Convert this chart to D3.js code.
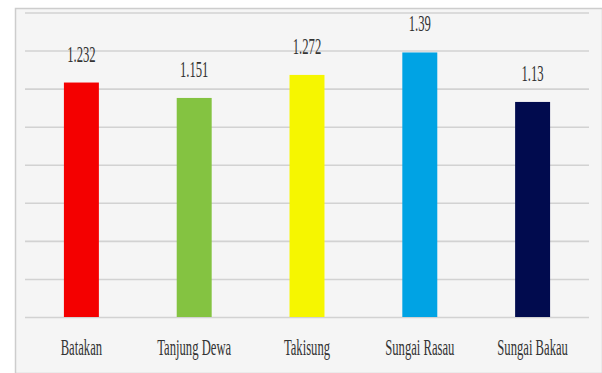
<!DOCTYPE html>
<html>
<head>
<meta charset="utf-8">
<script src="https://cdn.jsdelivr.net/npm/d3@7"></script>
<style>
  html, body { margin: 0; padding: 0; background: #ffffff; }
  svg { display: block; }
</style>
</head>
<body>
<svg id="chart" width="602" height="373"></svg>
<script>
const categories = ["Batakan", "Tanjung Dewa", "Takisung", "Sungai Rasau", "Sungai Bakau"];
const values = [1.232, 1.151, 1.272, 1.39, 1.13];
const valueLabels = ["1.232", "1.151", "1.272", "1.39", "1.13"];
const gridTicks = [0, 0.2, 0.4, 0.6, 0.8, 1.0, 1.2, 1.4, 1.6];
const palette = ["#f40000", "#84c341", "#f6f600", "#00a3e4", "#010b4e"];

const W = 602, H = 373;
const plot = { left: 25, right: 589, top: 12.5, bottom: 317 };
const textColor = "#333333";
const fontFamily = "'Liberation Serif', 'Times New Roman', serif";
const squeeze = 0.55;

const svg = d3.select("#chart");

// panel background & border
svg.append("rect")
  .attr("x", 15.5).attr("y", 8.5)
  .attr("width", W - 15).attr("height", H - 8)
  .attr("fill", "#f5f5f5")
  .attr("stroke", "#cdcdcd")
  .attr("stroke-width", 1.5);

const x = d3.scaleBand()
  .domain(categories)
  .range([plot.left, plot.right])
  .paddingInner(0.69)
  .paddingOuter(0.345);

const y = d3.scaleLinear()
  .domain([0, 1.6])
  .range([plot.bottom, plot.top]);

// gridlines via axis
const grid = svg.append("g")
  .attr("transform", `translate(${plot.left},0)`)
  .call(d3.axisRight(y).tickValues(gridTicks).tickSize(plot.right - plot.left).tickFormat(""));
grid.select(".domain").remove();
grid.selectAll(".tick line").attr("stroke", "#d2d2d2").attr("stroke-width", 1.6);

// bars
svg.append("g").selectAll("rect")
  .data(values)
  .join("rect")
  .attr("x", (d, i) => x(categories[i]))
  .attr("y", d => y(d))
  .attr("width", x.bandwidth())
  .attr("height", d => y(0) - y(d))
  .attr("fill", (d, i) => palette[i]);

// value labels
svg.append("g").selectAll("text")
  .data(values)
  .join("text")
  .attr("transform", (d, i) => `translate(${x(categories[i]) + x.bandwidth() / 2},${y(d) - 21}) scale(${squeeze},1)`)
  .attr("text-anchor", "middle")
  .attr("font-family", fontFamily)
  .attr("font-size", 23)
  .attr("fill", textColor)
  .text((d, i) => valueLabels[i]);

// category labels via axis
const xAxis = svg.append("g")
  .attr("transform", `translate(0,${plot.bottom})`)
  .call(d3.axisBottom(x).tickSize(0).tickPadding(0));
xAxis.select(".domain").remove();
xAxis.selectAll(".tick text")
  .attr("y", 0).attr("dy", 0)
  .attr("transform", `translate(0,38) scale(${squeeze},1)`)
  .attr("font-family", fontFamily)
  .attr("font-size", 23)
  .attr("fill", textColor);
</script>
</body>
</html>
